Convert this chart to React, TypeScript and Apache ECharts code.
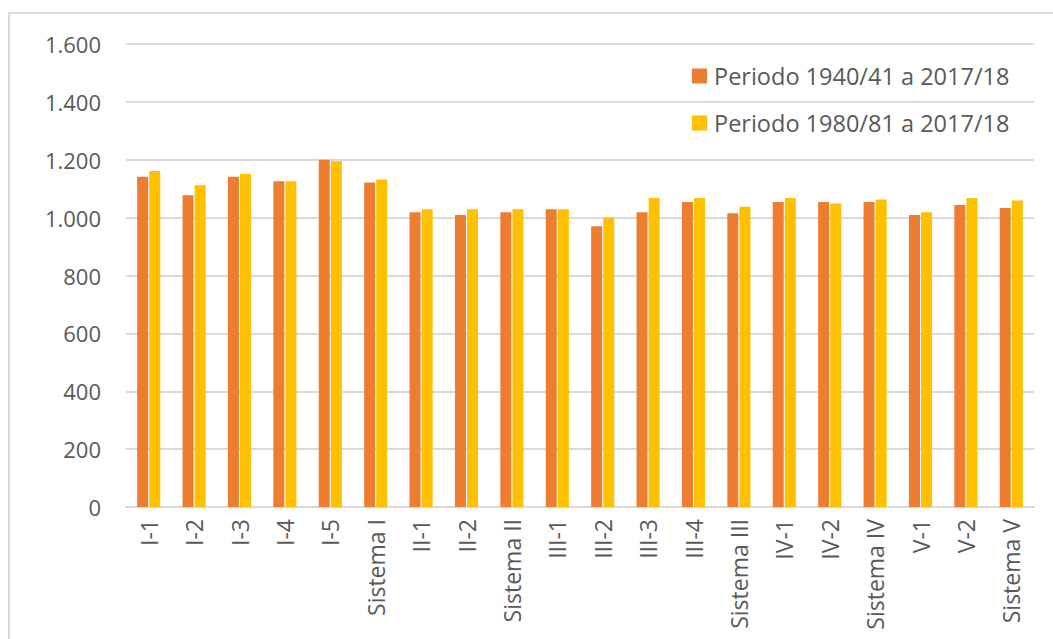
import React, { useEffect, useRef } from "react";
import * as echarts from "echarts";

const categories = ["I-1", "I-2", "I-3", "I-4", "I-5", "Sistema I", "II-1", "II-2", "Sistema II", "III-1", "III-2", "III-3", "III-4", "Sistema III", "IV-1", "IV-2", "Sistema IV", "V-1", "V-2", "Sistema V"];
const periodo1940 = [1141, 1077, 1141, 1126, 1200, 1121, 1019, 1009, 1019, 1029, 970, 1019, 1054, 1015, 1054, 1054, 1054, 1009, 1044, 1033];
const periodo1980 = [1161, 1112, 1151, 1126, 1195, 1132, 1029, 1029, 1029, 1029, 1000, 1068, 1068, 1038, 1068, 1049, 1063, 1019, 1068, 1059];
const seriesNames = ["Periodo 1940/41 a 2017/18", "Periodo 1980/81 a 2017/18"];

const FONT = "'Open Sans', sans-serif";
const TXT = "#595959";

function fmt(v: number) {
  return String(v).replace(/\B(?=(\d{3})+(?!\d))/g, ".");
}

export default function App() {
  const ref = useRef<HTMLDivElement>(null);
  useEffect(() => {
    if (!ref.current) return;
    const chart = echarts.init(ref.current, null, { renderer: "svg" });
    chart.setOption({
      animation: false,
      backgroundColor: "#ffffff",
      graphic: [
        {
          type: "rect",
          shape: { x: 9, y: 13, width: 1200, height: 800 },
          style: { fill: "none", stroke: "#D9D9D9", lineWidth: 2 },
          silent: true,
        },
      ],
      grid: { left: 126, right: 19, top: 44, bottom: 132 },
      legend: {
        orient: "vertical",
        left: 692,
        top: 64,
        padding: 0,
        itemWidth: 15,
        itemHeight: 15,
        itemGap: 23,
        icon: "rect",
        textStyle: { fontFamily: FONT, fontSize: 23.5, color: TXT, padding: [0, 0, 0, 2] },
        data: seriesNames,
      },
      xAxis: {
        type: "category",
        data: categories,
        axisLine: { lineStyle: { color: "#D9D9D9", width: 2 } },
        axisTick: { show: false },
        axisLabel: {
          rotate: 90,
          interval: 0,
          margin: 12,
          fontFamily: FONT,
          fontSize: 23,
          color: TXT,
        },
      },
      yAxis: {
        type: "value",
        min: 0,
        max: 1600,
        interval: 200,
        axisLine: { show: false },
        axisTick: { show: false },
        splitLine: { lineStyle: { color: "#D9D9D9", width: 2 } },
        axisLabel: {
          margin: 25,
          fontFamily: FONT,
          fontSize: 22,
          color: TXT,
          formatter: (v: number) => fmt(v),
        },
      },
      series: [
        {
          name: seriesNames[0],
          type: "bar",
          data: periodo1940,
          barWidth: 11,
          barGap: "10%",
          itemStyle: { color: "#ED7D31" },
        },
        {
          name: seriesNames[1],
          type: "bar",
          data: periodo1980,
          barWidth: 11,
          itemStyle: { color: "#FFC000" },
        },
      ],
    });
    return () => chart.dispose();
  }, []);
  return (
    <div
      ref={ref}
      style={{ position: "fixed", left: 0, top: 0, width: 1053, height: 639 }}
    />
  );
}
